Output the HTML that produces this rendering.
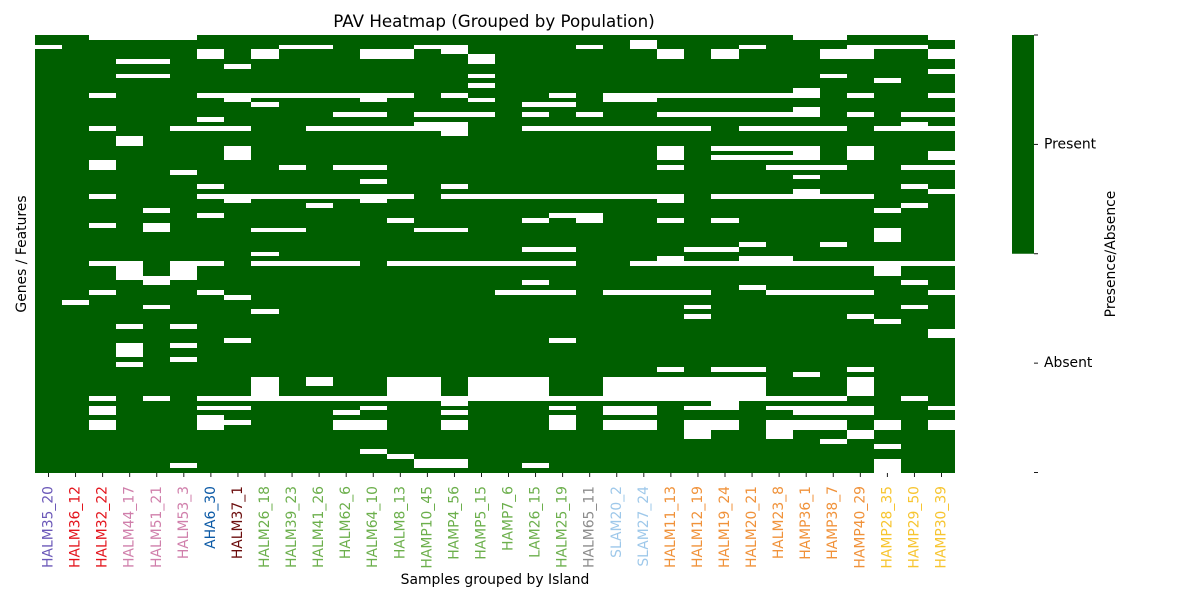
<!DOCTYPE html>
<html>
<head>
<meta charset="utf-8">
<style>
  html,body{margin:0;padding:0;background:#fff;}
  svg{display:block;font-family:"DejaVu Sans","Liberation Sans",sans-serif;}
</style>
</head>
<body>
<svg id="chart" width="1200" height="600" viewBox="0 0 1200 600" xmlns="http://www.w3.org/2000/svg">
  <rect x="0" y="0" width="1200" height="600" fill="#ffffff"/>
  <text x="494" y="27" font-size="16.7" text-anchor="middle" fill="#000">PAV Heatmap (Grouped by Population)</text>
  <g id="cells" shape-rendering="crispEdges"></g>
  <g id="xticks"></g>
  <text x="495" y="584" font-size="13.9" text-anchor="middle" fill="#000">Samples grouped by Island</text>
  <text transform="translate(26,254) rotate(-90)" font-size="13.9" text-anchor="middle" fill="#000">Genes / Features</text>
  <g id="colorbar"></g>
  <text transform="translate(1115,254) rotate(-90)" font-size="13.9" text-anchor="middle" fill="#000">Presence/Absence</text>
</svg>
<script>
const samples = ["HALM35_20","HALM36_12","HALM32_22","HALM44_17","HALM51_21","HALM53_3","AHA6_30","HALM37_1","HALM26_18","HALM39_23","HALM41_26","HALM62_6","HALM64_10","HALM8_13","HAMP10_45","HAMP4_56","HAMP5_15","HAMP7_6","LAM26_15","HALM25_19","HALM65_11","SLAM20_2","SLAM27_24","HALM11_13","HALM12_19","HALM19_24","HALM20_21","HALM23_8","HAMP36_1","HAMP38_7","HAMP40_29","HAMP28_35","HAMP29_50","HAMP30_39"];
const sampleGroups = ["g0","g1","g1","g2","g2","g2","g3","g4","g5","g5","g5","g5","g5","g5","g5","g5","g5","g5","g5","g5","g6","g7","g7","g8","g8","g8","g8","g8","g8","g8","g8","g9","g9","g9"];
const groupColors = {g0:"#6b58b8",g1:"#e3141c",g2:"#d07fab",g3:"#0c5aa6",g4:"#6b0c0c",g5:"#6caf4c",g6:"#8c8c8c",g7:"#9ec8ea",g8:"#f0923a",g9:"#f7c530"};
const geneCount = 91;
// rows (gene indices) where each sample is Absent
const absentRows = [
  [2],
  [55],
  [0,12,19,26,27,33,39,47,53,75,77,78,80,81],
  [0,5,8,21,22,47,48,49,50,60,64,65,66,68],
  [0,5,8,36,39,40,50,51,56,75],
  [0,19,28,47,48,49,50,60,64,67,89],
  [3,4,12,17,19,31,33,37,47,53,75,77,79,80,81],
  [6,12,13,19,23,24,25,33,34,54,63,75,77,80],
  [3,4,12,14,33,40,45,47,57,71,72,73,74,75],
  [2,12,27,33,40,47,75],
  [2,12,19,33,35,47,71,72,75],
  [12,16,19,27,33,47,75,78,80,81],
  [3,4,12,13,16,19,27,30,33,34,75,77,80,81,86],
  [3,4,12,19,33,38,47,71,72,73,74,75,87],
  [2,16,18,19,40,47,71,72,73,74,75,88,89],
  [2,3,12,16,18,19,20,31,33,40,47,75,76,78,80,81,88,89],
  [4,5,8,10,13,16,33,47,71,72,73,74,75],
  [33,47,53,71,72,73,74,75],
  [14,16,19,33,38,44,47,51,53,71,72,73,74,75,89],
  [12,14,19,33,37,44,47,53,63,75,77,79,80,81],
  [2,16,19,33,37,38,75],
  [12,13,19,33,53,71,72,73,74,75,77,78,80,81],
  [1,2,12,13,19,33,47,53,71,72,73,74,75,77,78,80,81],
  [3,4,12,16,19,23,24,25,27,33,34,38,46,47,53,69,71,72,73,74,75],
  [12,16,19,44,47,53,56,58,71,72,73,74,75,77,80,81,82,83],
  [3,4,12,16,23,25,33,38,44,47,69,71,72,73,74,75,76,77,80,81],
  [2,12,16,19,23,25,33,43,46,47,52,69,71,72,73,74,75],
  [12,16,19,23,25,27,33,46,47,53,75,77,80,81,82,83],
  [0,11,12,15,16,19,23,24,25,27,29,32,33,47,53,70,75,77,78,80,81],
  [0,3,4,8,19,27,33,43,47,53,75,77,78,80,81,84],
  [2,3,4,12,16,23,24,25,33,47,53,58,69,71,72,73,74,77,78,82,83],
  [2,9,19,36,40,41,42,47,48,49,59,80,81,85,88,89,90],
  [2,16,18,19,27,31,35,47,51,56,75],
  [0,3,4,7,12,16,19,24,25,27,32,47,53,61,62,77,80,81]
];
const cbTickValues = [0, 0.25, 0.5, 0.75, 1];
const cbTickLabels = ["", "Absent", "", "Present", ""];

const NS = "http://www.w3.org/2000/svg";
const plot = {left:35, top:35, width:920, height:438};
const colW = plot.width / samples.length;
const rowH = plot.height / geneCount;
function xScale(i){ return plot.left + i*colW; }
function yScale(r){ return plot.top + r*rowH; }
const PRESENT = "#005f00", ABSENT = "#ffffff";

const cells = document.getElementById("cells");
for (let c = 0; c < samples.length; c++) {
  const absent = new Set(absentRows[c]);
  for (let r = 0; r < geneCount; r++) {
    const rect = document.createElementNS(NS, "rect");
    const x0 = Math.round(xScale(c)), x1 = Math.round(xScale(c+1));
    const y0 = Math.round(yScale(r)), y1 = Math.round(yScale(r+1));
    rect.setAttribute("x", x0);
    rect.setAttribute("y", y0);
    rect.setAttribute("width", x1 - x0);
    rect.setAttribute("height", y1 - y0);
    rect.setAttribute("fill", absent.has(r) ? ABSENT : PRESENT);
    
    
    cells.appendChild(rect);
  }
}

const xt = document.getElementById("xticks");
for (let c = 0; c < samples.length; c++) {
  const cx = xScale(c + 0.5);
  const tk = document.createElementNS(NS, "line");
  tk.setAttribute("x1", cx); tk.setAttribute("x2", cx);
  tk.setAttribute("y1", plot.top + plot.height); tk.setAttribute("y2", plot.top + plot.height + 4);
  tk.setAttribute("stroke", "#000"); tk.setAttribute("stroke-width", "0.9");
  
  
  xt.appendChild(tk);
  const t = document.createElementNS(NS, "text");
  t.setAttribute("transform", "translate(" + cx + "," + (plot.top + plot.height + 13) + ") rotate(-90)");
  t.setAttribute("text-anchor", "end");
  t.setAttribute("dominant-baseline", "central");
  t.setAttribute("font-size", "13.9");
  t.setAttribute("fill", groupColors[sampleGroups[c]]);
  t.textContent = samples[c];
  
  
  xt.appendChild(t);
}

const cb = document.getElementById("colorbar");
const cbBox = {x:1012, w:22, top:35, bottom:472.5};
function cbScale(v){ return cbBox.bottom - v*(cbBox.bottom - cbBox.top); }
const cbWhite = document.createElementNS(NS, "rect");
cbWhite.setAttribute("x", cbBox.x); cbWhite.setAttribute("y", cbScale(0.5));
cbWhite.setAttribute("width", cbBox.w); cbWhite.setAttribute("height", cbScale(0) - cbScale(0.5));
cbWhite.setAttribute("fill", ABSENT);


cb.appendChild(cbWhite);
const cbGreen = document.createElementNS(NS, "rect");
cbGreen.setAttribute("x", cbBox.x); cbGreen.setAttribute("y", cbScale(1));
cbGreen.setAttribute("width", cbBox.w); cbGreen.setAttribute("height", cbScale(0.5) - cbScale(1));
cbGreen.setAttribute("fill", PRESENT);


cb.appendChild(cbGreen);
for (let i = 0; i < cbTickValues.length; i++) {
  const y = cbScale(cbTickValues[i]);
  const l = document.createElementNS(NS, "line");
  l.setAttribute("x1", cbBox.x + cbBox.w); l.setAttribute("x2", cbBox.x + cbBox.w + 4);
  l.setAttribute("y1", y); l.setAttribute("y2", y);
  l.setAttribute("stroke", "#000"); l.setAttribute("stroke-width", "0.9");
  
  
  cb.appendChild(l);
  if (cbTickLabels[i]) {
    const t = document.createElementNS(NS, "text");
    t.setAttribute("x", cbBox.x + cbBox.w + 10);
    t.setAttribute("y", y);
    t.setAttribute("dominant-baseline", "central");
    t.setAttribute("font-size", "13.9");
    t.setAttribute("fill", "#000");
    t.textContent = cbTickLabels[i];
    
    
    cb.appendChild(t);
  }
}
</script>
</body>
</html>
